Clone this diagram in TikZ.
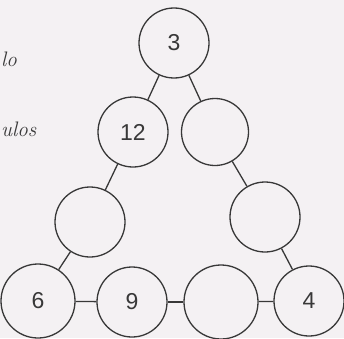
\documentclass[tikz,border=0pt]{standalone}
\usepackage{fontspec}
\newfontfamily\handfont{Liberation Sans}
\definecolor{paper}{HTML}{F4F1F3}
\definecolor{ink}{HTML}{383838}
\begin{document}
\begin{tikzpicture}[x=1pt,y=1pt,
  ring/.style={circle,draw=ink,line width=1.3pt,fill=paper,minimum size=70pt,inner sep=0pt,
    font=\handfont\fontsize{23}{23}\selectfont,text=ink},
  link/.style={draw=ink,line width=1.3pt},
  side/.style={font=\fontsize{21}{21}\selectfont\itshape,text=ink,anchor=west,inner sep=0pt}]
\fill[paper] (0,0) rectangle (344,338);
\useasboundingbox (0,0) rectangle (344,338);
\node[side] (t1) at (1,279) {lo};
\node[side] (t2) at (1,209) {ulos};
\node[ring] (a) at (174,295) {3};
\node[ring] (b) at (133,206) {12};
\node[ring,minimum size=67pt] (c) at (215,206) {};
\node[ring] (d) at (90,116) {};
\node[ring] (e) at (265,121) {};
\node[ring,minimum size=74pt] (f) at (38,37) {6};
\node[ring] (g) at (132,36) {9};
\node[ring,minimum size=74pt] (h) at (221,36) {};
\node[ring] (i) at (309,37) {4};
\draw[link] (a) -- (b);
\draw[link] (a) -- (c);
\draw[link] (b) -- (d);
\draw[link] (c) -- (e);
\draw[link] (d) -- (f);
\draw[link] (e) -- (i);
\draw[link] (f) -- (g);
\draw[link] (g) -- (h);
\draw[link] (h) -- (i);
\end{tikzpicture}
\end{document}
